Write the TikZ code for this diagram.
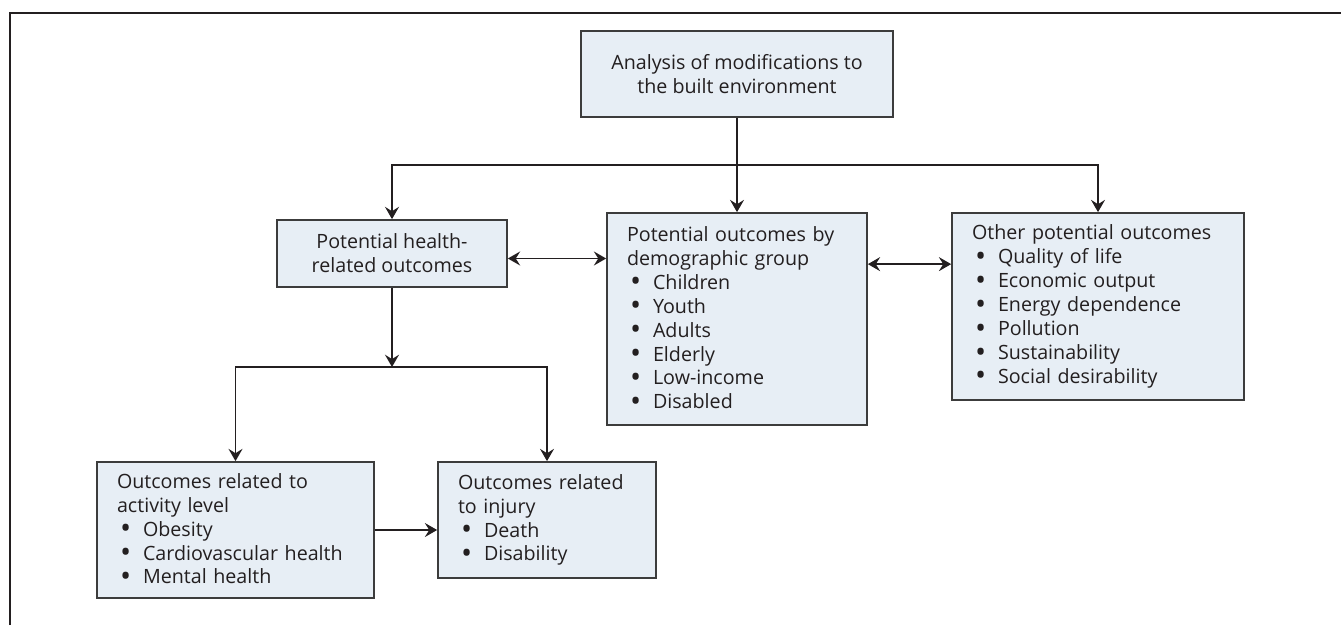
\documentclass[tikz,border=0pt]{standalone}
\usepackage{fontspec}
\setmainfont{Open Sans}
\usetikzlibrary{arrows.meta,positioning}

\definecolor{boxfill}{HTML}{E7EEF5}
\definecolor{boxline}{HTML}{3C3C3C}
\definecolor{ink}{HTML}{231F20}
\newcommand{\bul}{\\\hspace*{0.06cm}\makebox[0.46cm][l]{\raisebox{-0.25ex}{\scalebox{1.5}{\textbullet}}}}

\begin{document}
\begin{tikzpicture}[x=0.02cm,y=-0.02cm,>={Stealth[length=7pt,width=8pt,inset=2.5pt]},line width=0.8pt,color=ink]
	\tikzstyle{box}=[draw=boxline,fill=boxfill,line width=1pt,inner xsep=0.4cm,text=ink,font=\fontsize{11.2}{13.6}\selectfont]
	\tikzstyle{mid}=[box,align=center]
	\tikzstyle{list}=[box,align=left]

	\useasboundingbox (0,0) rectangle (1341,625);
	\draw[line width=1.1pt] (10,625) -- (10,12.7) -- (1341,12.7);

	\node[mid,minimum width=6.24cm,minimum height=1.72cm] (analysis) at (737,74) {Analysis of modifications to\\the built environment};
	\node[mid,minimum width=4.6cm,minimum height=1.34cm] (health) at (392,253.5) {Potential health-\\related outcomes};
	\node[list,text width=4.4cm,minimum height=4.24cm] (demo) at (737,319) {Potential outcomes by\\demographic group\bul Children\bul Youth\bul Adults\bul Elderly\bul Low-income\bul Disabled};
	\node[list,text width=5.04cm,minimum height=3.74cm] (other) at (1098,306.5) {Other potential outcomes\bul Quality of life\bul Economic output\bul Energy dependence\bul Pollution\bul Sustainability\bul Social desirability};
	\node[list,text width=4.74cm,minimum height=2.72cm] (activity) at (235.5,530) {Outcomes related to\\activity level\bul Obesity\bul Cardiovascular health\bul Mental health};
	\node[list,text width=3.56cm,minimum height=2.32cm] (injury) at (547,520) {Outcomes related\\to injury\bul Death\bul Disability};

	\coordinate (split) at (737,165);
	\coordinate (fork) at (392,367);

	\draw (analysis.south) -- (split);
	\draw[->] (split) -- (demo.north);
	\draw[->] (split) -| (health.north);
	\draw[->] (split) -| (other.north);
	\draw[<->] ([yshift=-0.1cm]health.east) -- ([yshift=-0.1cm]health.east -| demo.west);
	\draw[<->] ([yshift=-1.04cm]demo.north east) -- ([yshift=-1.04cm]demo.north east -| other.west);
	\draw[->] (health.south) -- (fork);
	\draw[->] (fork) -| (activity.north);
	\draw[->] (fork) -| (injury.north);
	\draw[->] (activity.east) -- (activity.east -| injury.west);
\end{tikzpicture}
\end{document}
